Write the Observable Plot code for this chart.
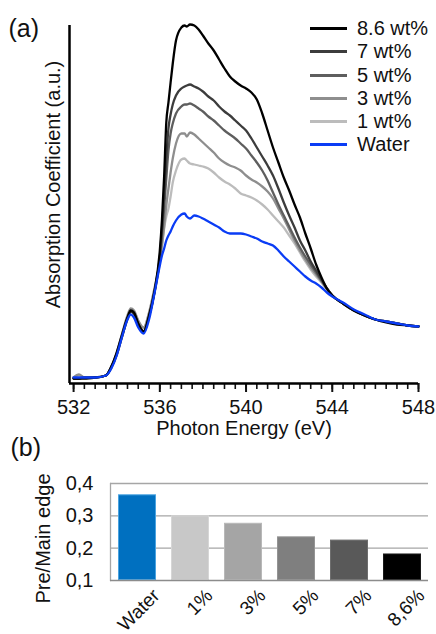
<!DOCTYPE html>
<html><head><meta charset="utf-8">
<script src="https://cdn.jsdelivr.net/npm/d3@7"></script>
<script src="https://cdn.jsdelivr.net/npm/@observablehq/plot@0.6"></script>
<style>
body{margin:0;background:#fff;font-family:"Liberation Sans",Arial,sans-serif;}
#wrap{position:relative;width:436px;height:634px;overflow:hidden;background:#fff;}
#pa,#pb,#legend{position:absolute;left:0;}
#pa{top:0}
#pb{top:430px}
#legend{left:310px;top:16.7px;}
.row{display:flex;align-items:center;height:23.33px;font-size:20px;color:#111;white-space:nowrap;}
.sw{width:37px;height:3px;margin-right:10px;}
</style></head><body>
<div id="wrap"><div id="pb"></div><div id="pa"></div><div id="legend"></div></div>
<script>
// ---- Panel (a): XAS spectra ----
const energy = [532, 532.25, 532.5, 533, 533.5, 533.75, 534, 534.25, 534.5, 534.65, 534.8, 535, 535.25, 535.5, 535.75, 536, 536.1, 536.2, 536.3, 536.4, 536.5, 536.6, 536.75, 537, 537.15, 537.25, 537.4, 537.6, 537.8, 538, 538.25, 538.5, 538.75, 539, 539.25, 539.5, 539.75, 540, 540.25, 540.5, 540.75, 541, 541.25, 541.5, 541.75, 542, 542.25, 542.5, 542.75, 543, 543.25, 543.5, 543.75, 544, 544.5, 545, 545.5, 546, 546.5, 547, 547.5, 548];

const wt86 = [0, 0, 0, 0.01, 0.03, 0.12, 0.26, 0.44, 0.61, 0.68, 0.66, 0.55, 0.47, 0.63, 0.87, 1.28, 1.59, 2.02, 2.56, 2.76, 2.96, 3.15, 3.38, 3.51, 3.53, 3.52, 3.54, 3.53, 3.49, 3.43, 3.35, 3.28, 3.19, 3.10, 3.02, 2.97, 2.93, 2.90, 2.86, 2.79, 2.65, 2.48, 2.31, 2.16, 2.01, 1.88, 1.74, 1.61, 1.45, 1.30, 1.14, 1.01, 0.90, 0.83, 0.75, 0.68, 0.63, 0.59, 0.56, 0.54, 0.53, 0.52];
const wt7 = [0, 0, 0.01, 0.01, 0.03, 0.11, 0.24, 0.42, 0.60, 0.67, 0.65, 0.54, 0.47, 0.62, 0.86, 1.22, 1.50, 1.83, 2.20, 2.50, 2.64, 2.74, 2.83, 2.90, 2.92, 2.93, 2.94, 2.92, 2.90, 2.87, 2.82, 2.78, 2.72, 2.67, 2.63, 2.58, 2.53, 2.48, 2.40, 2.31, 2.22, 2.13, 2.03, 1.90, 1.76, 1.63, 1.51, 1.38, 1.28, 1.17, 1.08, 0.99, 0.90, 0.83, 0.75, 0.68, 0.63, 0.59, 0.57, 0.55, 0.53, 0.52];
const wt5 = [0, 0, 0.01, 0.01, 0.03, 0.11, 0.24, 0.42, 0.60, 0.67, 0.65, 0.54, 0.47, 0.62, 0.86, 1.20, 1.43, 1.70, 2.00, 2.28, 2.45, 2.55, 2.65, 2.72, 2.74, 2.74, 2.75, 2.73, 2.70, 2.67, 2.62, 2.58, 2.53, 2.48, 2.44, 2.40, 2.35, 2.30, 2.23, 2.16, 2.08, 1.98, 1.86, 1.74, 1.63, 1.52, 1.41, 1.31, 1.22, 1.14, 1.06, 0.98, 0.90, 0.83, 0.75, 0.68, 0.63, 0.59, 0.57, 0.55, 0.53, 0.52];
const wt3 = [0.01, 0.04, 0.01, 0.01, 0.03, 0.12, 0.26, 0.45, 0.63, 0.70, 0.68, 0.58, 0.51, 0.66, 0.90, 1.18, 1.34, 1.52, 1.73, 1.90, 2.06, 2.20, 2.35, 2.45, 2.45, 2.42, 2.46, 2.44, 2.40, 2.36, 2.31, 2.26, 2.20, 2.16, 2.13, 2.11, 2.08, 2.03, 1.99, 1.96, 1.92, 1.87, 1.80, 1.70, 1.60, 1.49, 1.38, 1.28, 1.19, 1.11, 1.04, 0.97, 0.90, 0.83, 0.75, 0.68, 0.63, 0.59, 0.57, 0.55, 0.53, 0.52];
const wt1 = [0.01, 0.01, 0.01, 0.01, 0.03, 0.11, 0.25, 0.44, 0.62, 0.69, 0.67, 0.57, 0.50, 0.65, 0.89, 1.16, 1.32, 1.50, 1.62, 1.70, 1.82, 1.96, 2.08, 2.19, 2.20, 2.18, 2.15, 2.14, 2.13, 2.12, 2.10, 2.06, 2.01, 1.97, 1.94, 1.90, 1.85, 1.83, 1.81, 1.78, 1.74, 1.69, 1.63, 1.57, 1.51, 1.43, 1.35, 1.26, 1.17, 1.09, 1.02, 0.96, 0.89, 0.83, 0.75, 0.68, 0.63, 0.59, 0.57, 0.55, 0.53, 0.52];
const water = [0.01, 0.01, 0.01, 0.01, 0.03, 0.10, 0.23, 0.42, 0.59, 0.64, 0.61, 0.51, 0.45, 0.59, 0.85, 1.13, 1.23, 1.30, 1.38, 1.43, 1.47, 1.52, 1.58, 1.64, 1.65, 1.62, 1.60, 1.63, 1.62, 1.60, 1.57, 1.54, 1.51, 1.47, 1.45, 1.45, 1.45, 1.44, 1.42, 1.40, 1.37, 1.35, 1.33, 1.28, 1.22, 1.17, 1.12, 1.07, 1.02, 0.98, 0.95, 0.91, 0.86, 0.82, 0.76, 0.69, 0.64, 0.59, 0.57, 0.55, 0.53, 0.52];

const seriesNames = ["8.6 wt%", "7 wt%", "5 wt%", "3 wt%", "1 wt%", "Water"];
const seriesColors = ["#000000", "#3c3c3c", "#5e5e5e", "#8e8e8e", "#bcbcbc", "#0a3cf5"];
const seriesValues = [wt86, wt7, wt5, wt3, wt1, water];
const drawOrder = ["1 wt%", "3 wt%", "5 wt%", "7 wt%", "8.6 wt%", "Water"];

const majorTicks = [532, 536, 540, 544, 548];
const minorTicks = d3.range(532, 548.01, 0.5);

const rows = [];
drawOrder.forEach(n => {
  const k = seriesNames.indexOf(n);
  energy.forEach((e, i) => rows.push({E: e, A: seriesValues[k][i], name: n}));
});

const xMin = 531.81, yMin = -0.05, yMax = 3.53;
const font = "Liberation Sans, Arial, sans-serif";

const pa = Plot.plot({
  width: 436, height: 445,
  marginLeft: 69, marginRight: 18, marginTop: 25, marginBottom: 62,
  x: {domain: [xMin, 548], axis: null},
  y: {domain: [yMin, yMax], axis: null},
  color: {domain: seriesNames, range: seriesColors},
  style: {fontFamily: font, fontSize: "20px", color: "#111", background: "transparent", overflow: "visible"},
  marks: [
    Plot.line(rows, {x: "E", y: "A", z: "name", stroke: "name", strokeWidth: 2.3, curve: "monotone-x"}),
    Plot.axisX(minorTicks, {tickSize: 6, strokeWidth: 1.6, text: null, label: null}),
    Plot.axisX(majorTicks, {tickSize: 9, tickPadding: 7, strokeWidth: 2, fontSize: 20, label: null, fill: "#111"}),
    Plot.ruleY([yMin], {stroke: "#000", strokeWidth: 2.5}),
    Plot.ruleX([xMin], {stroke: "#000", strokeWidth: 2.5}),
    Plot.text(["Photon Energy (eV)"], {frameAnchor: "bottom", textAnchor: "middle", lineAnchor: "top", dy: 37, fontSize: 20, fill: "#111"}),
    Plot.text(["Absorption Coefficient (a.u.)"], {frameAnchor: "left", rotate: -90, textAnchor: "middle", lineAnchor: "middle", dx: -16, dy: -20, fontSize: 20, fill: "#111"}),
    Plot.text(["(a)"], {frameAnchor: "top-left", textAnchor: "start", lineAnchor: "top", dx: -61, dy: -6, fontSize: 25, fill: "#111"})
  ]
});
document.getElementById("pa").appendChild(pa);

// legend
const lg = document.getElementById("legend");
seriesNames.forEach((n, i) => {
  const r = document.createElement("div");
  r.className = "row";
  r.innerHTML = `<div class="sw" style="background:${seriesColors[i]}"></div><span>${n}</span>`;
  lg.appendChild(r);
});

// ---- Panel (b): Pre/Main edge ratio ----
const barCats = ["Water", "1%", "3%", "5%", "7%", "8,6%"];
const barValues = [0.365, 0.300, 0.277, 0.235, 0.225, 0.182];
const barColors = ["#0070c0", "#c8c8c8", "#a5a5a5", "#7f7f7f", "#595959", "#000000"];
const barEdge = ["#4aa3e0", "#d6d6d6", "#b8b8b8", "#949494", "#6e6e6e", "#1a1a1a"];
const yTicks = [0.1, 0.2, 0.3, 0.4];
const bars = barCats.map((c, i) => ({cat: c, ratio: barValues[i], edge: barEdge[i]}));

const pb = Plot.plot({
  width: 436, height: 204,
  marginTop: 53, marginBottom: 54, marginLeft: 110, marginRight: 8,
  x: {domain: barCats, paddingInner: 0.29, paddingOuter: 0.13, axis: null},
  y: {domain: [0.1, 0.4], axis: null},
  color: {domain: barCats, range: barColors},
  style: {fontFamily: font, fontSize: "20px", color: "#111", background: "transparent", overflow: "visible"},
  marks: [
    Plot.gridY([0.2, 0.3, 0.4], {stroke: "#a6a6a6", strokeOpacity: 1, strokeWidth: 1.3}),
    Plot.frame({anchor: "left", stroke: "#a6a6a6", strokeWidth: 1.3}),
    Plot.barY(bars, {x: "cat", y1: 0.1, y2: "ratio", fill: "cat", stroke: d => d.edge, strokeWidth: 1, inset: 0.5}),
    Plot.ruleY([0.1], {stroke: "#8c8c8c", strokeWidth: 1.5}),
    Plot.axisY(yTicks, {tickSize: 0, tickPadding: 17, tickFormat: d => d.toFixed(1).replace(".", ","), fontSize: 20, label: null, fill: "#111"}),
    Plot.axisX({tickSize: 0, tickRotate: -45, tickPadding: 12, dx: 19, fontSize: 19, label: null, fill: "#111"}),
    Plot.text(["Pre/Main edge"], {frameAnchor: "left", rotate: -90, textAnchor: "middle", lineAnchor: "middle", dx: -67, dy: 6.5, fontSize: 20, fill: "#111"}),
    Plot.text(["(b)"], {frameAnchor: "top-left", textAnchor: "start", lineAnchor: "top", dx: -100, dy: -45, fontSize: 25, fill: "#111"})
  ]
});
document.getElementById("pb").appendChild(pb);
</script>
</body></html>
